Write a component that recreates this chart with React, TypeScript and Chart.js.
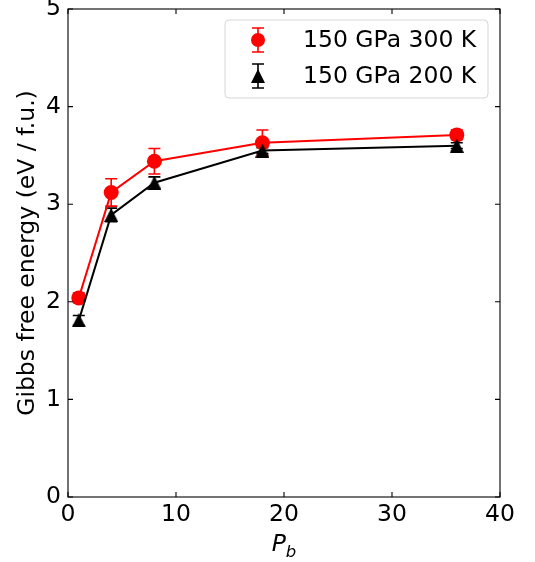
import React, { useEffect, useRef } from "react";
import { Chart, registerables } from "chart.js";

Chart.register(...registerables);

const xValues = [1, 4, 8, 18, 36];
const red300 = [2.04, 3.12, 3.44, 3.63, 3.71];
const red300Err = [0.05, 0.14, 0.13, 0.13, 0.05];
const black200 = [1.81, 2.89, 3.22, 3.55, 3.6];
const black200Err = [0.05, 0.07, 0.06, 0.03, 0.03];
const xTicks = [0, 10, 20, 30, 40];
const yTicks = [0, 1, 2, 3, 4, 5];
const legendLabels = ["150 GPa 300 K", "150 GPa 200 K"];
const yTitle = "Gibbs free energy (eV / f.u.)";

const FONT = "DejaVu Sans, sans-serif";
const FS = 23.5;
const RED = "#ff0000";
const BLACK = "#000000";

function makeTriangle(size: number, color: string) {
  const c = document.createElement("canvas");
  c.width = size;
  c.height = size;
  const ctx = c.getContext("2d")!;
  ctx.fillStyle = color;
  ctx.beginPath();
  ctx.moveTo(size / 2, 0);
  ctx.lineTo(size, size);
  ctx.lineTo(0, size);
  ctx.closePath();
  ctx.fill();
  return c;
}

function drawErrBar(ctx: CanvasRenderingContext2D, x: number, yTop: number, yBot: number, color: string) {
  ctx.save();
  ctx.strokeStyle = color;
  ctx.lineWidth = 1.6;
  ctx.beginPath();
  ctx.moveTo(x, yTop);
  ctx.lineTo(x, yBot);
  ctx.moveTo(x - 6, yTop);
  ctx.lineTo(x + 6, yTop);
  ctx.moveTo(x - 6, yBot);
  ctx.lineTo(x + 6, yBot);
  ctx.stroke();
  ctx.restore();
}

const decorPlugin = {
  id: "decor",
  beforeDatasetsDraw(chart: any) {
    const ctx = chart.ctx as CanvasRenderingContext2D;
    const xs = chart.scales.x;
    const ys = chart.scales.y;
    const series = [
      { v: red300, e: red300Err, c: RED },
      { v: black200, e: black200Err, c: BLACK },
    ];
    series.forEach((s) => {
      xValues.forEach((xv, i) => {
        const px = xs.getPixelForValue(xv);
        drawErrBar(ctx, px, ys.getPixelForValue(s.v[i] + s.e[i]), ys.getPixelForValue(s.v[i] - s.e[i]), s.c);
      });
    });
  },
  afterDraw(chart: any) {
    const ctx = chart.ctx as CanvasRenderingContext2D;
    const { left, right, top, bottom } = chart.chartArea;
    const xs = chart.scales.x;
    const ys = chart.scales.y;
    ctx.save();
    // frame
    ctx.strokeStyle = "#000";
    ctx.lineWidth = 1.1;
    ctx.strokeRect(left, top, right - left, bottom - top);
    // inward ticks
    const tl = 5;
    ctx.beginPath();
    xTicks.forEach((t) => {
      const px = xs.getPixelForValue(t);
      ctx.moveTo(px, bottom);
      ctx.lineTo(px, bottom - tl);
      ctx.moveTo(px, top);
      ctx.lineTo(px, top + tl);
    });
    yTicks.forEach((t) => {
      const py = ys.getPixelForValue(t);
      ctx.moveTo(left, py);
      ctx.lineTo(left + tl, py);
      ctx.moveTo(right, py);
      ctx.lineTo(right - tl, py);
    });
    ctx.stroke();

    // y title
    ctx.fillStyle = "#000";
    ctx.font = `${FS}px ${FONT}`;
    ctx.textAlign = "center";
    ctx.textBaseline = "middle";
    ctx.save();
    ctx.translate(28, (top + bottom) / 2);
    ctx.rotate(-Math.PI / 2);
    ctx.fillText(yTitle, 0, 0);
    ctx.restore();

    // x title P_b
    const cx = (left + right) / 2;
    ctx.font = `italic ${FS}px ${FONT}`;
    ctx.textAlign = "left";
    ctx.textBaseline = "alphabetic";
    const pw = ctx.measureText("P").width;
    ctx.font = `italic 16.5px ${FONT}`;
    const bw = ctx.measureText("b").width;
    const startX = cx - (pw + bw) / 2;
    ctx.font = `italic ${FS}px ${FONT}`;
    ctx.fillText("P", startX, 551);
    ctx.font = `italic 16.5px ${FONT}`;
    ctx.fillText("b", startX + pw, 556.5);

    // legend
    const lx = 225, ly = 20, lw = 263, lh = 78;
    ctx.beginPath();
    (ctx as any).roundRect(lx, ly, lw, lh, 4);
    ctx.fillStyle = "rgba(255,255,255,0.8)";
    ctx.fill();
    ctx.strokeStyle = "#d6d6d6";
    ctx.lineWidth = 1;
    ctx.stroke();

    const mx = 258;
    const rows = [40, 76];
    drawErrBar(ctx, mx, rows[0] - 12, rows[0] + 12, RED);
    ctx.fillStyle = RED;
    ctx.beginPath();
    ctx.arc(mx, rows[0], 7, 0, Math.PI * 2);
    ctx.fill();
    drawErrBar(ctx, mx, rows[1] - 12, rows[1] + 12, BLACK);
    ctx.fillStyle = BLACK;
    ctx.beginPath();
    ctx.moveTo(mx, rows[1] - 7);
    ctx.lineTo(mx + 7, rows[1] + 7);
    ctx.lineTo(mx - 7, rows[1] + 7);
    ctx.closePath();
    ctx.fill();

    ctx.fillStyle = "#000";
    ctx.font = `${FS}px ${FONT}`;
    ctx.textAlign = "left";
    ctx.textBaseline = "middle";
    legendLabels.forEach((lab, i) => ctx.fillText(lab, 303, rows[i] + 1));
    ctx.restore();
  },
};

export default function App() {
  const ref = useRef<HTMLCanvasElement>(null);
  useEffect(() => {
    if (!ref.current) return;
    const tri = makeTriangle(14, BLACK);
    const chart = new Chart(ref.current, {
      type: "line",
      data: {
        datasets: [
          {
            label: legendLabels[0],
            data: xValues.map((x, i) => ({ x, y: red300[i] })),
            borderColor: RED,
            backgroundColor: RED,
            borderWidth: 2,
            pointStyle: "circle",
            pointRadius: 7.5,
            pointBorderWidth: 0,
            pointBackgroundColor: RED,
            order: 2,
          },
          {
            label: legendLabels[1],
            data: xValues.map((x, i) => ({ x, y: black200[i] })),
            borderColor: BLACK,
            backgroundColor: BLACK,
            borderWidth: 2,
            pointStyle: tri as any,
            pointRadius: 7,
            order: 1,
          },
        ],
      },
      options: {
        animation: false,
        responsive: false,
        layout: { padding: { top: 9, right: 35, left: 0, bottom: 0 } },
        plugins: { legend: { display: false }, tooltip: { enabled: false } },
        scales: {
          x: {
            type: "linear",
            min: 0,
            max: 40,
            afterBuildTicks: (s: any) => {
              s.ticks = xTicks.map((v) => ({ value: v }));
            },
            afterFit: (s: any) => {
              s.height = 65;
              s.paddingLeft = 0;
              s.paddingRight = 0;
            },
            ticks: { color: "#000", font: { family: FONT, size: FS }, padding: 4, maxRotation: 0 },
            grid: { display: false, drawTicks: false },
            border: { display: false },
          },
          y: {
            type: "linear",
            min: 0,
            max: 5,
            afterBuildTicks: (s: any) => {
              s.ticks = yTicks.map((v) => ({ value: v }));
            },
            afterFit: (s: any) => {
              s.width = 68;
              s.paddingTop = 0;
              s.paddingBottom = 0;
            },
            ticks: { color: "#000", font: { family: FONT, size: FS }, padding: 7 },
            grid: { display: false, drawTicks: false },
            border: { display: false },
          },
        },
      },
      plugins: [decorPlugin],
    });
    return () => chart.destroy();
  }, []);
  return (
    <div style={{ position: "fixed", left: 0, top: 0, width: 535, height: 562, background: "#fff" }}>
      <canvas ref={ref} width={535} height={562} style={{ display: "block" }} />
    </div>
  );
}
